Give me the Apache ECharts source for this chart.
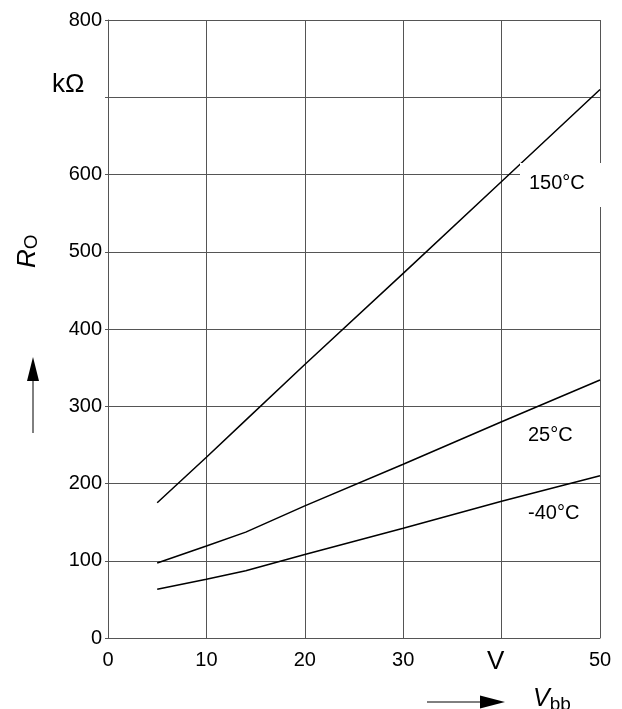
<!DOCTYPE html>
<html><head><meta charset="utf-8">
<script src="https://cdn.jsdelivr.net/npm/echarts@6/dist/echarts.min.js"></script>
<style>html,body{margin:0;padding:0;background:#fff}#c{width:622px;height:709px}</style>
</head><body><div id="c"></div>
<script>
var vbb = [5, 10, 14, 20, 30, 40, 50];
var ro150 = [175, 234, 282, 354, 472, 591, 710];
var ro25 = [97, 119, 137, 171, 225, 280, 334];
var roM40 = [63, 76, 87, 108, 142, 177, 210];
var xTicks = ['0', '10', '20', '30', '', '50'];
var yTicks = ['0', '100', '200', '300', '400', '500', '600', '', '800'];
var seriesNames = ['150°C', '25°C', '-40°C'];

function pairs(xs, ys) { return xs.map(function (x, i) { return [x, ys[i]]; }); }
var F = 'Liberation Sans, Arial, sans-serif';
var chart = echarts.init(document.getElementById('c'), null, {renderer: 'canvas'});
var lineStyle = {color: '#000', width: 1.5};
chart.setOption({
  animation: false,
  backgroundColor: '#fff',
  grid: {left: 108, right: 22, top: 20, bottom: 71},
  xAxis: {
    type: 'value', min: 0, max: 50, interval: 10,
    axisLine: {lineStyle: {color: '#555', width: 1}},
    axisTick: {show: false},
    splitLine: {lineStyle: {color: '#555', width: 1}},
    axisLabel: {color: '#000', fontSize: 20, fontFamily: F, margin: 12,
      formatter: function (v) { return xTicks[Math.round(v / 10)]; }}
  },
  yAxis: {
    type: 'value', min: 0, max: 800, interval: 100,
    axisLine: {lineStyle: {color: '#555', width: 1}},
    axisTick: {show: true, length: 3, lineStyle: {color: '#555'}},
    splitLine: {lineStyle: {color: '#555', width: 1}},
    axisLabel: {color: '#000', fontSize: 20, fontFamily: F, margin: 6,
      formatter: function (v) { return yTicks[Math.round(v / 100)]; }}
  },
  series: [
    {type: 'line', name: seriesNames[0], data: pairs(vbb, ro150), showSymbol: false, lineStyle: lineStyle, z: 3},
    {type: 'line', name: seriesNames[1], data: pairs(vbb, ro25), showSymbol: false, lineStyle: lineStyle, z: 3},
    {type: 'line', name: seriesNames[2], data: pairs(vbb, roM40), showSymbol: false, lineStyle: lineStyle, z: 3}
  ],
  graphic: [
    {type: 'rect', shape: {x: 520, y: 163, width: 84, height: 44}, style: {fill: '#fff'}, z: 10},
    {type: 'text', x: 529, y: 173, style: {text: seriesNames[0], fontSize: 20, fontFamily: F, fill: '#000'}, z: 11},
    {type: 'text', x: 528, y: 425, style: {text: seriesNames[1], fontSize: 20, fontFamily: F, fill: '#000'}, z: 11},
    {type: 'text', x: 528, y: 503, style: {text: seriesNames[2], fontSize: 20, fontFamily: F, fill: '#000'}, z: 11},
    {type: 'text', x: 52, y: 72, style: {text: 'kΩ', fontSize: 26, fontFamily: F, fill: '#000'}, z: 11},
    {type: 'text', x: 487, y: 649, style: {text: 'V', fontSize: 26, fontFamily: F, fill: '#000'}, z: 11},
    {type: 'text', x: 14, y: 268, rotation: Math.PI / 2,
      style: {text: '{i|R}{s|O}', fontFamily: F, fill: '#000',
        rich: {i: {fontSize: 26, fontStyle: 'italic', fontFamily: F}, s: {fontSize: 19, fontFamily: F, padding: [8, 0, 0, 0]}}}, z: 11},
    {type: 'text', x: 533, y: 685,
      style: {text: '{i|V}{s|bb}', fontFamily: F, fill: '#000',
        rich: {i: {fontSize: 25, fontStyle: 'italic', fontFamily: F}, s: {fontSize: 19, fontFamily: F, padding: [10, 0, 0, 0]}}}, z: 11},
    {type: 'line', shape: {x1: 33, y1: 433, x2: 33, y2: 375}, style: {stroke: '#000', lineWidth: 1}},
    {type: 'polygon', shape: {points: [[33, 357], [27, 381], [39, 381]]}, style: {fill: '#000'}},
    {type: 'line', shape: {x1: 427, y1: 702, x2: 485, y2: 702}, style: {stroke: '#000', lineWidth: 1}},
    {type: 'polygon', shape: {points: [[505, 702], [480, 695.5], [480, 708.5]]}, style: {fill: '#000'}}
  ]
});
</script></body></html>
